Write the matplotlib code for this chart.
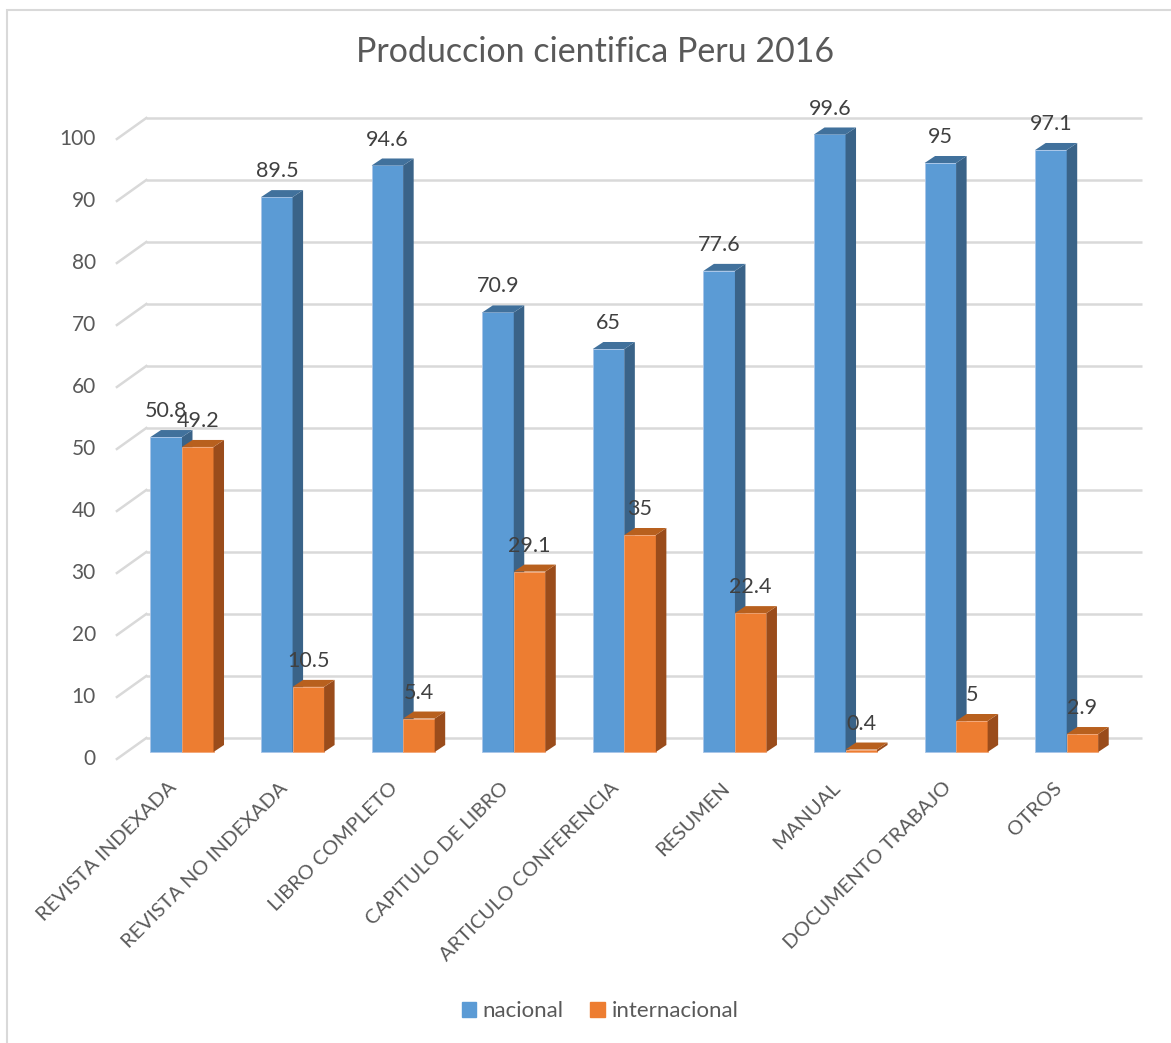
import matplotlib.pyplot as plt
from matplotlib.patches import Polygon, Rectangle, Patch

plt.rcParams['font.family'] = ['Lato', 'DejaVu Sans']

categories = ['REVISTA INDEXADA', 'REVISTA NO INDEXADA', 'LIBRO COMPLETO',
              'CAPITULO DE LIBRO', 'ARTICULO CONFERENCIA', 'RESUMEN',
              'MANUAL', 'DOCUMENTO TRABAJO', 'OTROS']
nacional = [50.8, 89.5, 94.6, 70.9, 65, 77.6, 99.6, 95, 97.1]
internacional = [49.2, 10.5, 5.4, 29.1, 35, 22.4, 0.4, 5, 2.9]
y_ticks = [0, 10, 20, 30, 40, 50, 60, 70, 80, 90, 100]

W, H = 1171, 1043
TEXT = '#595959'
GRID = '#d9d9d9'

fig = plt.figure(figsize=(W / 100, H / 100), dpi=100)

# plot area in pixels (bar plane)
left_px, right_px = 126.7, 1122.0
base_px, top_px = 752.0, 132.0
ax = fig.add_axes([left_px / W, 1 - base_px / H,
                   (right_px - left_px) / W, (base_px - top_px) / H])
ax.set_xlim(-0.5, 8.5)
ax.set_ylim(0, 100)
ax.axis('off')

px_x = (right_px - left_px) / 9.0
px_y = (base_px - top_px) / 100.0


def px(dx, dy):
    # pixel offset -> data offset
    return dx / px_x, dy / px_y


# walls: back grid, front slant, tick labels
gx, gy = px(19.6, 14)
fx, fy = px(9.8, 7)
lx, _ = px(21, 0)
for v in y_ticks:
    ax.plot([-0.5 + gx, 8.5 + gx], [v + gy, v + gy], color=GRID, lw=1.8,
            zorder=0, clip_on=False, solid_capstyle='butt')
    ax.plot([-0.5 - fx, -0.5 + gx], [v - fy, v + gy], color=GRID, lw=1.8,
            zorder=0, clip_on=False)
    ax.text(-0.5 - fx - lx, v - fy, str(v), ha='right', va='center',
            fontsize=15, color=TEXT)

# 3d bars
w = 0.285
DX, DY = px(10.5, 7)
series = [
    (nacional, -w, '#5B9BD5', '#41719C', '#3A6388', '#a9c6e8'),
    (internacional, 0.0, '#ED7D31', '#B8601E', '#9A4C1B', '#f3a676'),
]
z = 2
for vals, shift, front, top, side, edge in series:
    for i, v in enumerate(vals):
        x0 = i + shift
        x1 = x0 + w
        ax.bar(x0, v, width=w, align='edge', color=front, edgecolor=edge,
               lw=0.6, zorder=z, clip_on=False)
        ax.add_patch(Polygon([(x1, 0), (x1 + DX, DY), (x1 + DX, v + DY), (x1, v)],
                             closed=True, color=side, lw=0, zorder=z, clip_on=False))
        ax.add_patch(Polygon([(x0, v), (x1, v), (x1 + DX, v + DY), (x0 + DX, v + DY)],
                             closed=True, color=top, lw=0, zorder=z, clip_on=False))
        ax.annotate('{:g}'.format(v), (x0 + w / 2, v), xytext=(0, 11.5),
                    textcoords='offset points', ha='center', va='bottom',
                    fontsize=15.5, color='#404040', zorder=10)
    z += 1

# category labels
ox, oy = px(-14, 27)
for i, c in enumerate(categories):
    ax.text(i + ox, -oy, c, rotation=45, rotation_mode='anchor',
            ha='right', va='top', fontsize=14.5, color=TEXT)

fig.text(595 / W, 1 - 52 / H, 'Produccion cientifica Peru 2016',
         ha='center', va='center', fontsize=24.5, color=TEXT)

handles = [Patch(color='#5B9BD5'), Patch(color='#ED7D31')]
fig.legend(handles, ['nacional', 'internacional'], loc='center',
           bbox_to_anchor=(600 / W, 1 - 1011 / H), ncol=2, frameon=False,
           fontsize=16, handlelength=0.65, handleheight=0.65,
           handletextpad=0.3, columnspacing=1.2, labelcolor=TEXT)

# chart border
fig.patches.append(Rectangle((7 / W, -0.1), 1.2, 1.1 - 10 / H,
                             transform=fig.transFigure, fill=False,
                             edgecolor=GRID, lw=1.5))

fig.savefig('out.png', dpi=100)
